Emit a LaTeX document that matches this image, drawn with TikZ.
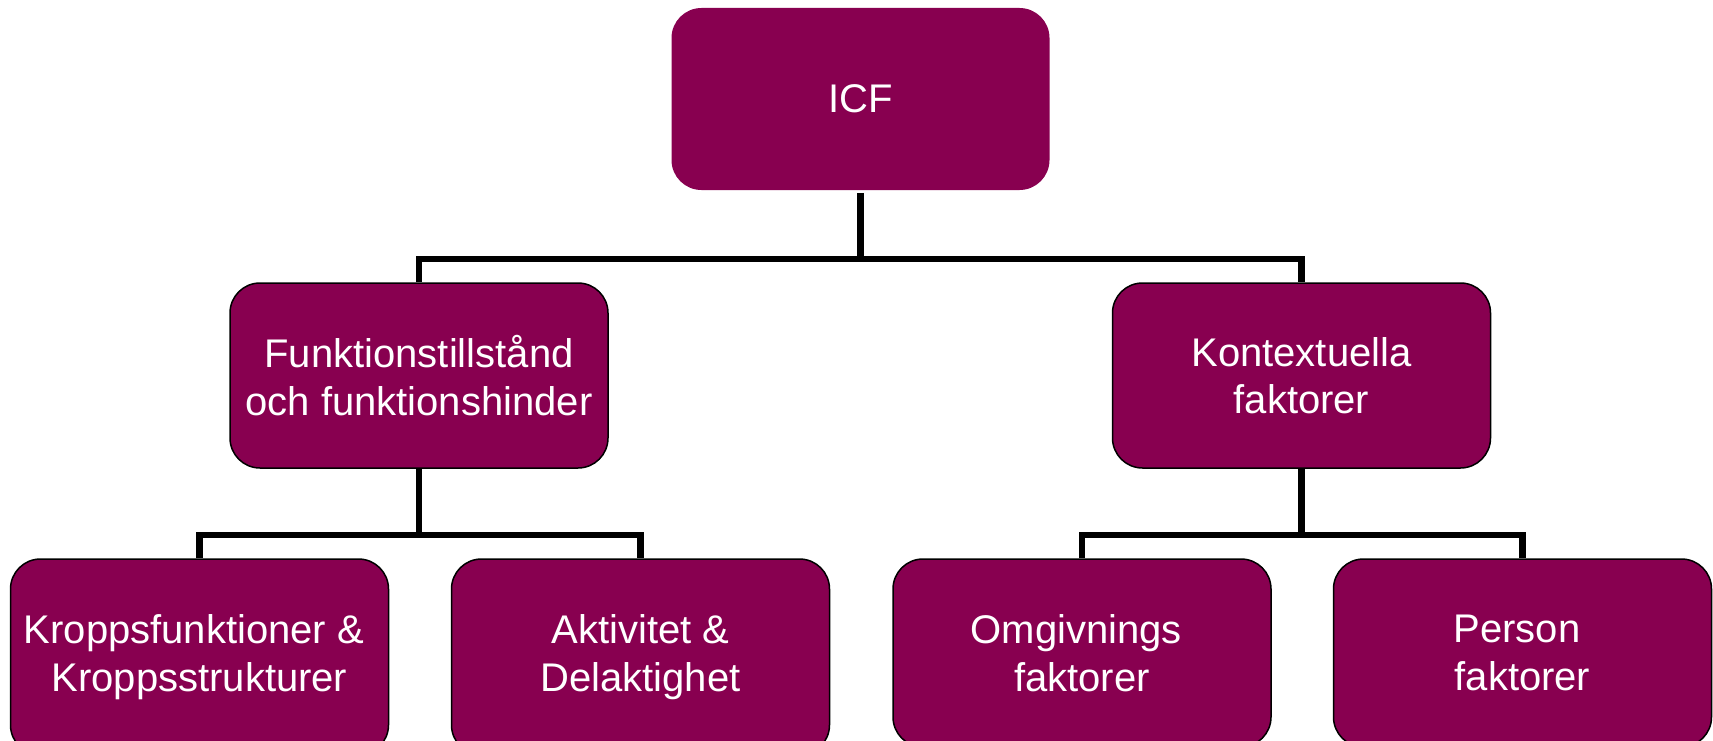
\documentclass[tikz,border=0pt]{standalone}
\usepackage{fontspec}
\setmainfont{Liberation Sans}
\definecolor{plum}{HTML}{880050}
\begin{document}
\begin{tikzpicture}[x=1pt,y=-1pt,
  box/.style={rectangle, rounded corners=30pt, fill=plum, draw=black, line width=1.5pt,
    minimum width=378pt, minimum height=185pt, inner sep=0pt, text=white,
    align=center, font=\fontsize{40}{47.5}\selectfont},
  topbox/.style={box, draw=none, minimum height=182pt},
  conn/.style={draw=black, line width=6.5pt}]
\useasboundingbox (0,0) rectangle (1713,741);
\node[topbox] (icf) at (860.5,99) {ICF};
\node[box] (funk) at (419,375.5) {Funktionstillstånd\\och funktionshinder};
\node[box] (kont) at (1301.5,375.5) {Kontextuella\\faktorer};
\node[box, minimum height=196pt] (kropp) at (199.5,657) {Kroppsfunktioner \&\hspace*{0.28em}\\Kroppsstrukturer};
\node[box, minimum height=196pt] (akt) at (640.5,657) {Aktivitet \&\\Delaktighet};
\node[box, minimum height=188pt] (omg) at (1082,653) {Omgivnings\hspace*{0.28em}\\faktorer};
\node[box, minimum height=188pt] (pers) at (1522.5,653) {Person\hspace*{0.28em}\\faktorer};
\coordinate (j1) at (860.5,259);
\coordinate (j2) at (419,535);
\coordinate (j3) at (1301.5,535);
\draw[conn] (funk.north) |- (j1) -| (kont.north);
\draw[conn] ([yshift=-2pt]icf.south) -- (j1);
\draw[conn] (kropp.north) |- (j2) -| (akt.north);
\draw[conn] (funk.south) -- (j2);
\draw[conn] (omg.north) |- (j3) -| (pers.north);
\draw[conn] (kont.south) -- (j3);
\end{tikzpicture}
\end{document}
